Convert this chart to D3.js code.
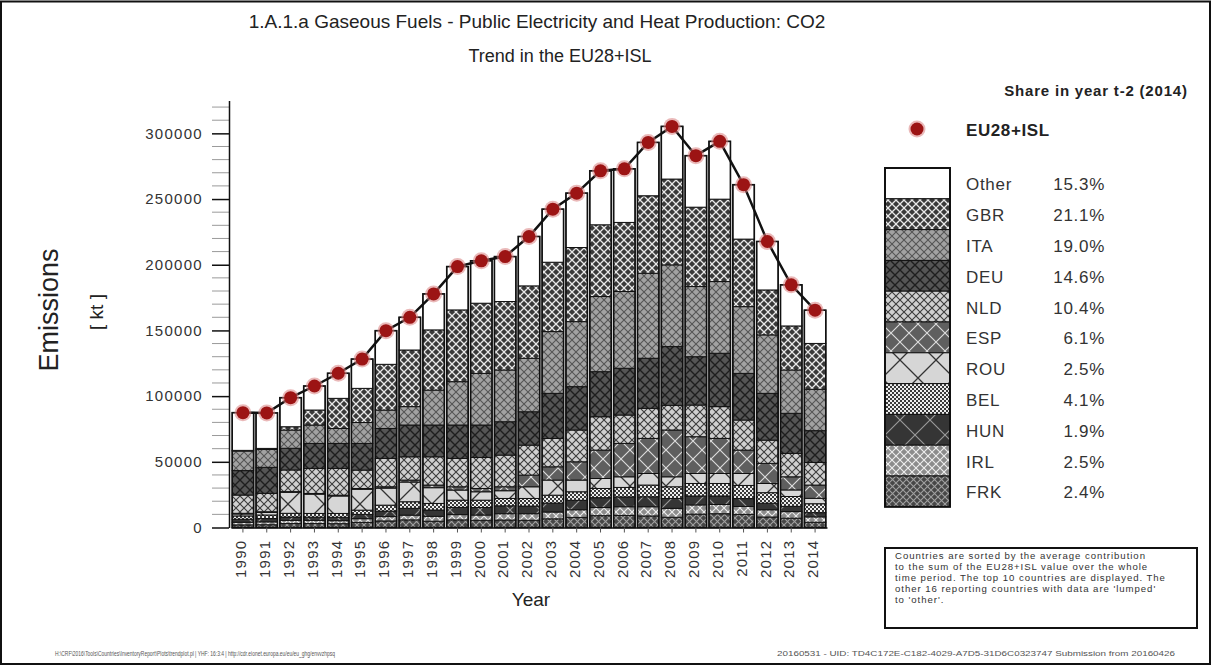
<!DOCTYPE html>
<html>
<head>
<meta charset="utf-8">
<script src="https://cdn.jsdelivr.net/npm/d3@7"></script>
<style>
  html, body { margin: 0; padding: 0; background: #fff; }
  svg { display: block; font-family: "Liberation Sans", Arial, sans-serif; }
</style>
</head>
<body>
<svg id="chart" width="1212" height="666"></svg>
<script>
// ---- data (kt CO2) ----
const years = [1990,1991,1992,1993,1994,1995,1996,1997,1998,1999,2000,2001,2002,
               2003,2004,2005,2006,2007,2008,2009,2010,2011,2012,2013,2014];

const seriesOther = [28700,27000,22100,18300,19100,22300,25600,24900,27400,33000,32300,34200,37600,
                     40400,41400,41100,40800,40600,40100,39200,44000,41400,36900,31300,25300];
const seriesGBR   = [500,800,2500,11400,22900,26000,34800,43100,45800,54600,53400,52100,55100,
                     52800,56400,54600,52600,59000,65300,60400,62700,51400,34200,33500,34900];
const seriesITA   = [14900,13600,13900,14000,11400,15900,14000,14000,26600,33000,39300,39400,40700,
                     47000,49500,57200,58400,64700,62200,53400,54600,50800,44500,33000,31500];
const seriesDEU   = [18600,19800,16500,19000,19000,20300,22800,24200,24200,25400,24700,25400,25400,
                     34300,33000,34300,35600,38100,44700,36800,40600,35500,35600,30500,24200];
const seriesNLD   = [13900,14000,16500,19100,20400,14000,21600,17700,21500,21600,23600,24100,22800,
                     21600,24200,25400,21600,22900,18800,24100,24200,22900,17700,17800,17200];
const seriesESP   = [500,500,500,500,600,600,1000,1500,2000,2500,2500,3000,8900,
                     10100,13900,21600,25400,26700,35600,28000,26700,17800,15300,10000,10100];
const seriesROU   = [1500,2000,16000,14700,13300,15900,13000,15000,12000,7700,6400,5900,8900,
                     11500,8900,7600,8100,8800,7600,7600,7600,9100,7000,5000,4100];
const seriesBEL   = [2500,2700,2800,2800,2900,3200,4500,5000,5000,5500,5600,5600,5800,
                     6000,6500,7000,7200,8900,8900,9500,9500,10000,8000,7500,6800];
const seriesHUN   = [2300,2500,2600,2500,2600,3300,4200,5200,4800,5500,5700,6000,5800,
                     6800,7200,7500,7500,7600,7500,6800,6500,6000,5000,4000,3200];
const seriesIRL   = [2000,2200,2400,2400,2300,2800,3300,3600,3700,4000,4000,4800,5000,
                     5200,5800,6200,6600,7000,6800,7000,7000,6000,5500,5000,4100];
const seriesFRK   = [2000,2100,3000,3000,2900,3900,5000,5800,4800,5800,5500,5700,5500,
                     6600,7700,9000,9200,8800,7800,10200,10500,10000,8000,7100,4000];

// stacking order, bottom to top
const countries = ["FRK","IRL","HUN","BEL","ROU","ESP","NLD","DEU","ITA","GBR","Other"];
const seriesByCountry = {
  FRK: seriesFRK, IRL: seriesIRL, HUN: seriesHUN, BEL: seriesBEL, ROU: seriesROU,
  ESP: seriesESP, NLD: seriesNLD, DEU: seriesDEU, ITA: seriesITA, GBR: seriesGBR, Other: seriesOther
};
const yTickValues = [0, 50000, 100000, 150000, 200000, 250000, 300000];
const shareYear = 2014;

const titleText = "1.A.1.a Gaseous Fuels - Public Electricity and Heat Production: CO2";
const subtitleText = "Trend in the EU28+ISL";
const noteLines = [
  "Countries are sorted by the average contribution",
  "to the sum of the EU28+ISL value over the whole",
  "time period. The top 10 countries are displayed. The",
  "other 16 reporting countries with data are 'lumped'",
  "to 'other'."
];
const footerLeft = "H:\\CRF\\2016\\Tools\\Countries\\InventoryReport\\Plots\\trendplot.pl | YHF: 16:3:4 | http://cdr.eionet.europa.eu/eu/eu_ghg/envvzhpsq";
const footerRight = "20160531 - UID: TD4C172E-C182-4029-A7D5-31D6C0323747  Submission from 20160426";

// ---- table built from the series ----
const rows = years.map((yr, i) => {
  const r = { year: yr };
  countries.forEach(c => { r[c] = seriesByCountry[c][i]; });
  r.total = d3.sum(countries, c => r[c]);
  return r;
});

// ---- setup ----
const svg = d3.select("#chart");
const defs = svg.append("defs");

function crossHatch(id, bg, stroke, s, w) {
  const p = defs.append("pattern").attr("id", id)
    .attr("patternUnits", "userSpaceOnUse").attr("width", s).attr("height", s);
  p.append("rect").attr("width", s).attr("height", s).attr("fill", bg);
  p.append("path")
    .attr("d", `M-1,-1L${s+1},${s+1}M${s+1},-1L-1,${s+1}`)
    .attr("stroke", stroke).attr("stroke-width", w).attr("fill", "none");
}
function checker(id, a, b, s) {
  const p = defs.append("pattern").attr("id", id)
    .attr("patternUnits", "userSpaceOnUse").attr("width", s * 2).attr("height", s * 2);
  p.append("rect").attr("width", s * 2).attr("height", s * 2).attr("fill", a);
  p.append("rect").attr("width", s).attr("height", s).attr("fill", b);
  p.append("rect").attr("x", s).attr("y", s).attr("width", s).attr("height", s).attr("fill", b);
}

crossHatch("pGBR", "#393939", "#e8e8e8", 8, 1.3);
crossHatch("pITA", "#a2a2a2", "#555555", 8, 1.1);
crossHatch("pDEU", "#555555", "#1e1e1e", 10, 1.4);
crossHatch("pNLD", "#d0d0d0", "#3c3c3c", 8, 1.1);
crossHatch("pESP", "#5f5f5f", "#dddddd", 18, 1.1);
crossHatch("pROU", "#d6d6d6", "#333333", 36, 1.3);
checker("pBEL", "#eeeeee", "#3a3a3a", 2);
crossHatch("pHUN", "#353535", "#9a9a9a", 30, 1.1);
crossHatch("pIRL", "#8c8c8c", "#eeeeee", 8, 1.1);
crossHatch("pFRK", "#474747", "#a0a0a0", 7, 1.1);

const fillOf = c => c === "Other" ? "#ffffff" : `url(#p${c})`;

// ---- scales ----
const x = d3.scaleBand().domain(years).range([231, 827]).paddingInner(0.1).paddingOuter(0.05);
const y = d3.scaleLinear().domain([0, 325000]).range([527.5, 100.5]);

// ---- frame ----
svg.append("rect").attr("x", 1).attr("y", 1.5).attr("width", 1209).attr("height", 662.5)
  .attr("fill", "none").attr("stroke", "#111").attr("stroke-width", 2);

// ---- titles ----
svg.append("text").attr("x", 537).attr("y", 28).attr("text-anchor", "middle")
  .attr("font-size", 19).attr("fill", "#222").text(titleText);
svg.append("text").attr("x", 560).attr("y", 62).attr("text-anchor", "middle")
  .attr("font-size", 18).attr("fill", "#222").text(subtitleText);

// ---- stacked bars ----
const stacked = d3.stack().keys(countries)(rows);
const gBars = svg.append("g");
stacked.forEach(layer => {
  gBars.append("g").selectAll("rect").data(layer).join("rect")
    .attr("x", d => x(d.data.year))
    .attr("width", x.bandwidth())
    .attr("y", d => y(d[1]))
    .attr("height", d => Math.max(0, y(d[0]) - y(d[1])))
    .attr("fill", fillOf(layer.key))
    .attr("stroke", "#111").attr("stroke-width", 1);
});
// bar outlines
gBars.append("g").selectAll("rect").data(rows).join("rect")
  .attr("x", d => x(d.year)).attr("width", x.bandwidth())
  .attr("y", d => y(d.total)).attr("height", d => y(0) - y(d.total))
  .attr("fill", "none").attr("stroke", "#111").attr("stroke-width", 1.6);

// ---- y axis ----
const minorTicks = d3.range(0, 325001, 10000).filter(v => !yTickValues.includes(v));
svg.append("g").selectAll("line").data(minorTicks).join("line")
  .attr("x1", 212).attr("x2", 229).attr("y1", d => y(d)).attr("y2", d => y(d))
  .attr("stroke", "#9a9a9a").attr("stroke-width", 1);

const yAxis = svg.append("g").attr("transform", "translate(229,0)")
  .call(d3.axisLeft(y).tickValues(yTickValues).tickFormat(d3.format("d"))
        .tickSize(17).tickSizeOuter(0).tickPadding(9));
yAxis.select(".domain").attr("stroke", "#111").attr("stroke-width", 1.5);
yAxis.selectAll(".tick line").attr("stroke", "#111").attr("stroke-width", 1.5);
yAxis.selectAll(".tick text").attr("font-size", 15).attr("letter-spacing", 1.3)
  .attr("fill", "#333").attr("font-family", "Liberation Sans, Arial, sans-serif");

// ---- x axis ----
const xAxis = svg.append("g").attr("transform", `translate(0,${y(0)})`)
  .call(d3.axisBottom(x).tickSize(5).tickSizeOuter(0).tickPadding(6));
xAxis.select(".domain").attr("stroke", "#111").attr("stroke-width", 1.5);
xAxis.selectAll(".tick line").attr("stroke", "#555");
xAxis.selectAll(".tick text")
  .attr("font-size", 15).attr("letter-spacing", 1.2).attr("fill", "#333")
  .attr("font-family", "Liberation Sans, Arial, sans-serif")
  .attr("transform", "rotate(-90)")
  .attr("text-anchor", "end").attr("dx", "-0.55em").attr("dy", "-0.15em")
  .attr("y", 0).attr("x", -4)
  .style("dominant-baseline", "central");

// ---- axis titles ----
svg.append("text").attr("transform", "translate(58,310) rotate(-90)")
  .attr("text-anchor", "middle").attr("font-size", 27).attr("fill", "#222").text("Emissions");
svg.append("text").attr("transform", "translate(103,312) rotate(-90)")
  .attr("text-anchor", "middle").attr("font-size", 19).attr("fill", "#222").text("[ kt ]");
svg.append("text").attr("x", 531).attr("y", 606).attr("text-anchor", "middle")
  .attr("font-size", 19).attr("fill", "#222").text("Year");

// ---- total line with markers ----
const line = d3.line().x(d => x(d.year) + x.bandwidth() / 2).y(d => y(d.total));
svg.append("path").datum(rows).attr("d", line)
  .attr("fill", "none").attr("stroke", "#111").attr("stroke-width", 2.5);
const gDots = svg.append("g");
gDots.selectAll("circle.halo").data(rows).join("circle").attr("class", "halo")
  .attr("cx", d => x(d.year) + x.bandwidth() / 2).attr("cy", d => y(d.total))
  .attr("r", 8.5).attr("fill", "#d98080").attr("opacity", 0.55);
gDots.selectAll("circle.dot").data(rows).join("circle").attr("class", "dot")
  .attr("cx", d => x(d.year) + x.bandwidth() / 2).attr("cy", d => y(d.total))
  .attr("r", 6.5).attr("fill", "#9c1414");

// ---- legend ----
const lastRow = rows[years.indexOf(shareYear)];
svg.append("text").attr("x", 1096).attr("y", 96).attr("text-anchor", "middle")
  .attr("font-size", 15).attr("font-weight", "bold").attr("letter-spacing", 0.8)
  .attr("fill", "#222").text(`Share in year t-2 (${shareYear})`);
svg.append("circle").attr("cx", 917).attr("cy", 129).attr("r", 8.5).attr("fill", "#d98080").attr("opacity", 0.55);
svg.append("circle").attr("cx", 917).attr("cy", 129).attr("r", 6.5).attr("fill", "#9c1414");
svg.append("text").attr("x", 966).attr("y", 136).attr("font-size", 17).attr("font-weight", "bold")
  .attr("letter-spacing", 0.6).attr("fill", "#222").text("EU28+ISL");

const legendOrder = countries.slice().reverse();
const legTop = 168, rowH = 30.8, swX = 885, swW = 65;
const gLeg = svg.append("g");
legendOrder.forEach((c, i) => {
  const ty = legTop + i * rowH;
  gLeg.append("rect").attr("x", swX).attr("y", ty).attr("width", swW).attr("height", rowH)
    .attr("fill", fillOf(c)).attr("stroke", "#111").attr("stroke-width", 1);
  gLeg.append("text").attr("x", 966).attr("y", ty + rowH / 2 + 7)
    .attr("font-size", 17).attr("letter-spacing", 0.7).attr("fill", "#333").text(c);
  gLeg.append("text").attr("x", 1105).attr("y", ty + rowH / 2 + 7).attr("text-anchor", "end")
    .attr("font-size", 17).attr("letter-spacing", 0.7).attr("fill", "#333")
    .text(d3.format(".1f")(lastRow[c] / lastRow.total * 100) + "%");
});
gLeg.append("rect").attr("x", swX).attr("y", legTop).attr("width", swW)
  .attr("height", rowH * legendOrder.length)
  .attr("fill", "none").attr("stroke", "#111").attr("stroke-width", 2);

// ---- note box ----
svg.append("rect").attr("x", 885).attr("y", 548).attr("width", 312).attr("height", 80)
  .attr("fill", "#fff").attr("stroke", "#111").attr("stroke-width", 2);
svg.append("g").selectAll("text").data(noteLines).join("text")
  .attr("x", 895).attr("y", (d, i) => 559 + i * 11)
  .attr("font-size", 9.6).attr("letter-spacing", 0.95).attr("fill", "#333").text(d => d);

// ---- footer ----
svg.append("text").attr("x", 55).attr("y", 656).attr("font-size", 7.5)
  .attr("textLength", 280).attr("lengthAdjust", "spacingAndGlyphs")
  .attr("fill", "#555").text(footerLeft);
svg.append("text").attr("x", 777).attr("y", 656).attr("font-size", 7.5)
  .attr("textLength", 398).attr("lengthAdjust", "spacingAndGlyphs")
  .attr("fill", "#555").text(footerRight);
</script>
</body>
</html>
